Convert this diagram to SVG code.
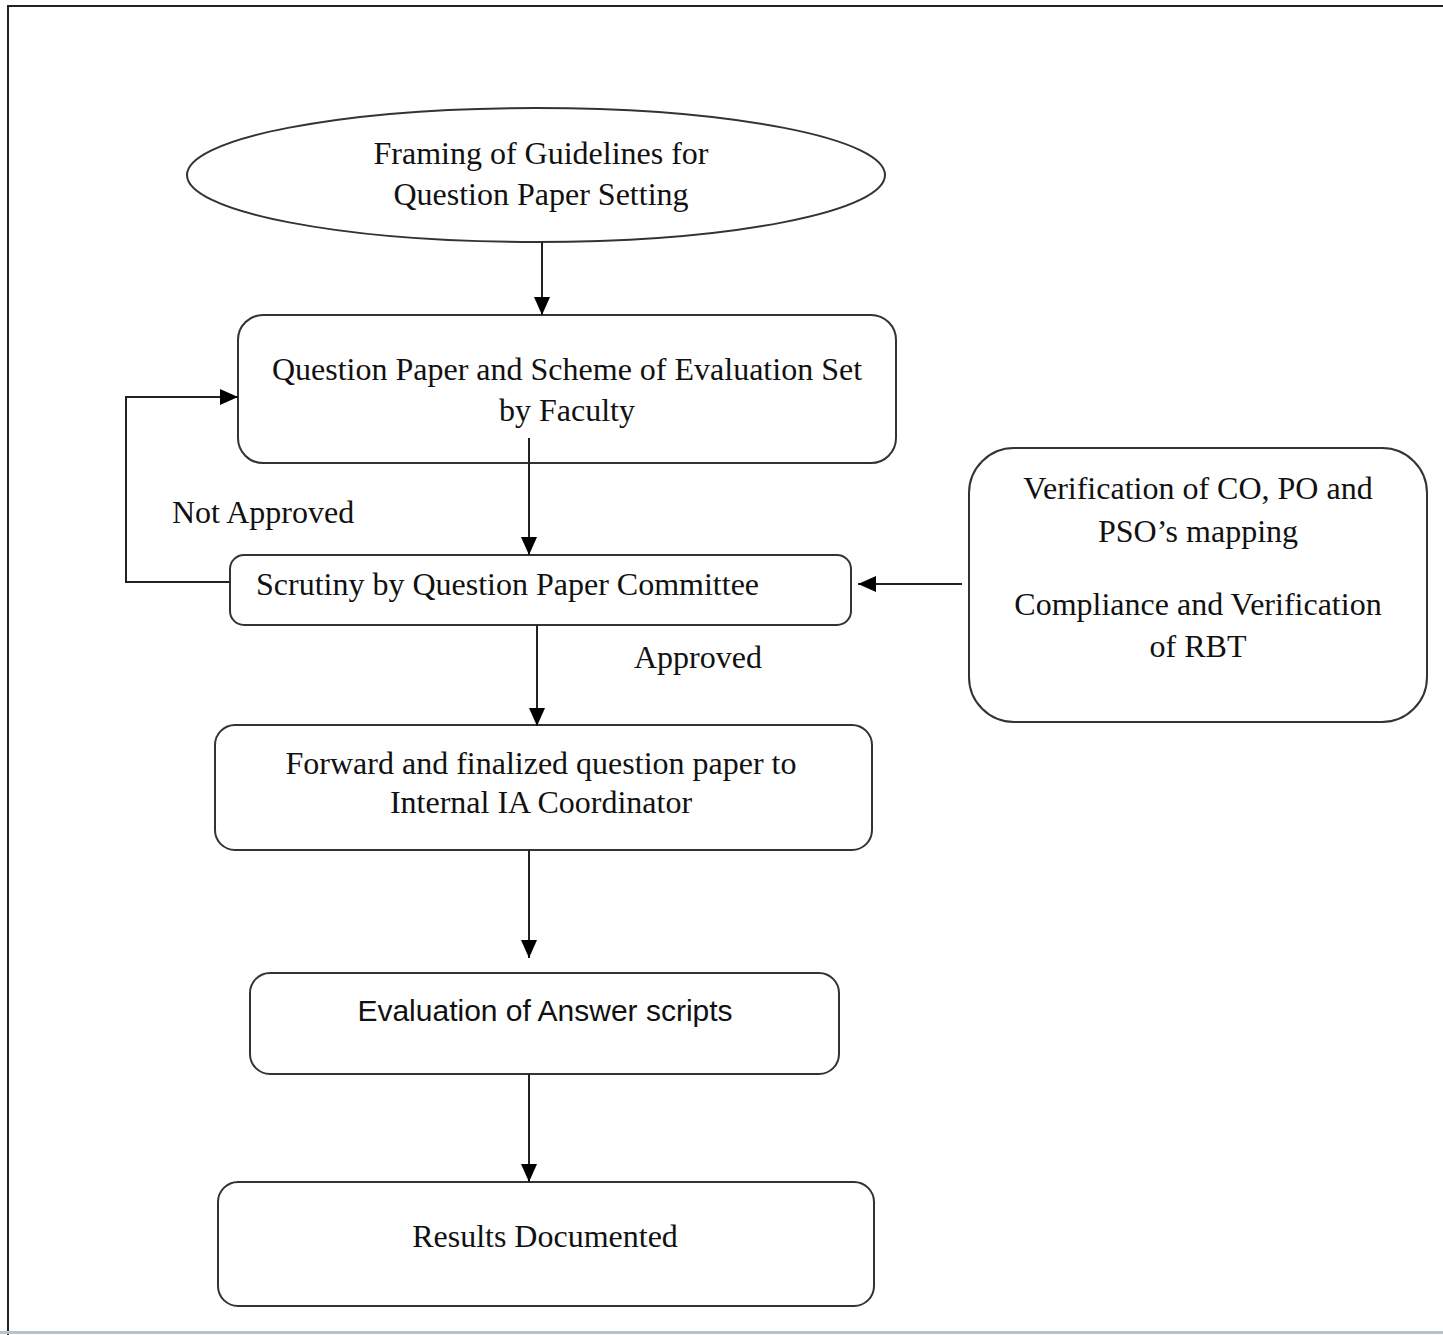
<svg xmlns="http://www.w3.org/2000/svg" width="1443" height="1335" viewBox="0 0 1443 1335">
  <defs>
    <marker id="arrow" viewBox="0 0 18 16" refX="18" refY="8" markerWidth="18" markerHeight="16" markerUnits="userSpaceOnUse" orient="auto">
      <path d="M0,0 L18,8 L0,16 Z" fill="#000"/>
    </marker>
  </defs>
  <style>
    .node { fill: #fff; stroke: #333; stroke-width: 2; }
    .t { font-family: "Liberation Serif", "Times New Roman", serif; font-size: 32px; fill: #111; }
    .c { text-anchor: middle; }
    .s { font-family: "Liberation Sans", Arial, sans-serif; font-size: 30px; fill: #111; }
    .edge { fill: none; stroke: #222; stroke-width: 2; }
    .frame { fill: none; stroke: #222; stroke-width: 2; }
  </style>
  <rect x="0" y="0" width="1443" height="1335" fill="#fff"/>
  <g id="frame">
    <line class="frame" x1="7" y1="6" x2="1443" y2="6"/>
    <line class="frame" x1="8" y1="6" x2="8" y2="1335"/>
    <line x1="0" y1="1332.5" x2="1443" y2="1332.5" stroke="#b7c2cd" stroke-width="3"/>
  </g>
  <g id="n1">
    <ellipse class="node" cx="536" cy="175" rx="349" ry="67"/>
    <text class="t c" x="541" y="164">Framing of Guidelines for</text>
    <text class="t c" x="541" y="205">Question Paper Setting</text>
  </g>
  <g id="n2">
    <rect class="node" x="238" y="315" width="658" height="148" rx="25"/>
    <text class="t c" x="567" y="380">Question Paper and Scheme of Evaluation Set</text>
    <text class="t c" x="567" y="421">by Faculty</text>
  </g>
  <g id="n3">
    <rect class="node" x="230" y="555" width="621" height="70" rx="14"/>
    <text class="t" x="256" y="595">Scrutiny by Question Paper Committee</text>
  </g>
  <g id="n4">
    <rect class="node" x="969" y="448" width="458" height="274" rx="45"/>
    <text class="t c" x="1198" y="499">Verification of CO, PO and</text>
    <text class="t c" x="1198" y="542">PSO’s mapping</text>
    <text class="t c" x="1198" y="615">Compliance and Verification</text>
    <text class="t c" x="1198" y="657">of RBT</text>
  </g>
  <g id="n5">
    <rect class="node" x="215" y="725" width="657" height="125" rx="20"/>
    <text class="t c" x="541" y="774">Forward and finalized question paper to</text>
    <text class="t c" x="541" y="813">Internal IA Coordinator</text>
  </g>
  <g id="n6">
    <rect class="node" x="250" y="973" width="589" height="101" rx="20"/>
    <text class="s c" x="545" y="1021">Evaluation of Answer scripts</text>
  </g>
  <g id="n7">
    <rect class="node" x="218" y="1182" width="656" height="124" rx="20"/>
    <text class="t c" x="545" y="1247">Results Documented</text>
  </g>
  <g id="connectors">
    <line class="edge" x1="542" y1="242" x2="542" y2="315" marker-end="url(#arrow)"/>
    <line class="edge" x1="529" y1="438" x2="529" y2="555" marker-end="url(#arrow)"/>
    <polyline class="edge" points="230,582 126,582 126,397 238,397" marker-end="url(#arrow)"/>
    <line class="edge" x1="962" y1="584" x2="858" y2="584" marker-end="url(#arrow)"/>
    <line class="edge" x1="537" y1="625" x2="537" y2="726" marker-end="url(#arrow)"/>
    <line class="edge" x1="529" y1="850" x2="529" y2="958" marker-end="url(#arrow)"/>
    <line class="edge" x1="529" y1="1074" x2="529" y2="1182" marker-end="url(#arrow)"/>
    <text class="t" x="172" y="523">Not Approved</text>
    <text class="t" x="634" y="668">Approved</text>
  </g>
</svg>
